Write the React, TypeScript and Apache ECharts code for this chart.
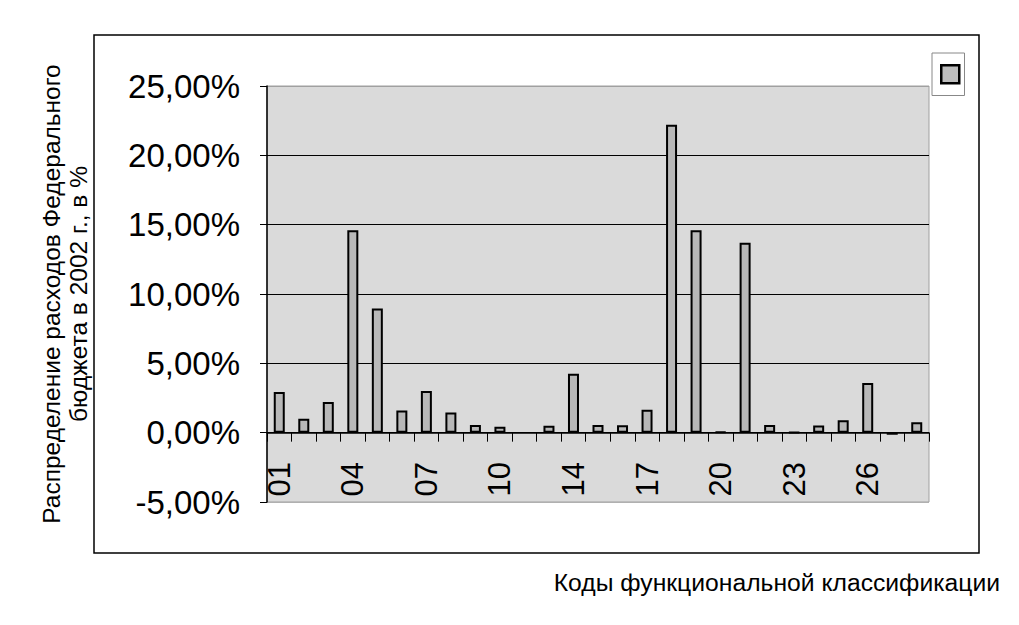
import React, { useEffect, useRef } from "react";
import * as echarts from "echarts";

const categories = [
  "01", "02", "03", "04", "05", "06", "07", "08", "09", "10",
  "11", "13", "14", "15", "16", "17", "18", "19", "20", "21",
  "22", "23", "24", "25", "26", "27", "28",
];
const shares = [
  2.94, 1.01, 2.22, 14.6, 8.96, 1.59, 3.01, 1.45, 0.55, 0.43,
  null, 0.5, 4.24, 0.55, 0.53, 1.65, 22.2, 14.6, 0.05, 13.7,
  0.56, 0.03, 0.51, 0.9, 3.58, -0.15, 0.75,
];
const yMin = -5;
const yMax = 25;
const yStep = 5;
const yTitle = "Распределение расходов Федерального\nбюджета в 2002 г., в %";
const xTitle = "Коды функциональной классификации";
const seriesName = "Доля расходов";

const FONT = "'Liberation Sans', Arial, sans-serif";

export default function App() {
  const ref = useRef<HTMLDivElement>(null);
  useEffect(() => {
    if (!ref.current) return;
    const chart = echarts.init(ref.current, null, { renderer: "svg" });
    chart.setOption({
      animation: false,
      backgroundColor: "#ffffff",
      textStyle: { fontFamily: FONT },
      title: {
        text: xTitle,
        right: 14,
        top: 565,
        textStyle: { fontFamily: FONT, fontSize: 24.7, fontWeight: "normal", color: "#000" },
      },
      legend: {
        left: 932,
        top: 53,
        data: [seriesName],
        formatter: () => "",
        icon: "rect",
        itemWidth: 18,
        itemHeight: 18,
        padding: [11, 4, 11, 8],
        borderColor: "#888",
        borderWidth: 1,
        itemStyle: { borderColor: "#000", borderWidth: 2.5, color: "#bdbdbd" },
      },
      graphic: [
        {
          type: "rect",
          shape: { x: 94, y: 35, width: 885, height: 518 },
          style: { fill: "none", stroke: "#000", lineWidth: 1.5 },
          silent: true,
          z: -1,
        },
      ],
      grid: {
        left: 267,
        right: 90,
        top: 86,
        bottom: 123,
        show: true,
        backgroundColor: "#dadada",
        borderColor: "#a0a0a0",
        borderWidth: 1,
      },
      xAxis: {
        type: "category",
        data: categories,
        axisLine: { onZero: true, lineStyle: { color: "#000", width: 1.5 } },
        axisTick: { show: true, interval: 0, length: 9, lineStyle: { color: "#000", width: 1 } },
        axisLabel: {
          interval: 2,
          rotate: 90,
          margin: -40,
          fontSize: 31,
          color: "#000",
          fontFamily: FONT,
        },
        splitLine: { show: false },
      },
      yAxis: {
        type: "value",
        min: yMin,
        max: yMax,
        interval: yStep,
        name: yTitle,
        nameLocation: "middle",
        nameGap: 175,
        nameTextStyle: { fontFamily: FONT, fontSize: 24.5, color: "#000", lineHeight: 27 },
        axisLine: { show: true, lineStyle: { color: "#000", width: 1.5 } },
        axisTick: { show: true, length: 7, lineStyle: { color: "#000" } },
        axisLabel: {
          margin: 27,
          fontSize: 33,
          color: "#000",
          fontFamily: FONT,
          formatter: (v: number) => v.toFixed(2).replace(".", ",") + "%",
        },
        splitLine: {
          show: true,
          lineStyle: {
            color: ["#b0b0b0", "#000", "#000", "#000", "#000", "#000", "#a0a0a0"],
            width: 1.2,
          },
        },
      },
      series: [
        {
          name: seriesName,
          type: "bar",
          data: shares,
          barWidth: 11,
          itemStyle: { color: "#b8b8b8", borderColor: "#000", borderWidth: 2 },
        },
      ],
    });
    return () => chart.dispose();
  }, []);
  return (
    <div
      ref={ref}
      style={{ position: "absolute", left: 0, top: 0, width: 1019, height: 625 }}
    />
  );
}
